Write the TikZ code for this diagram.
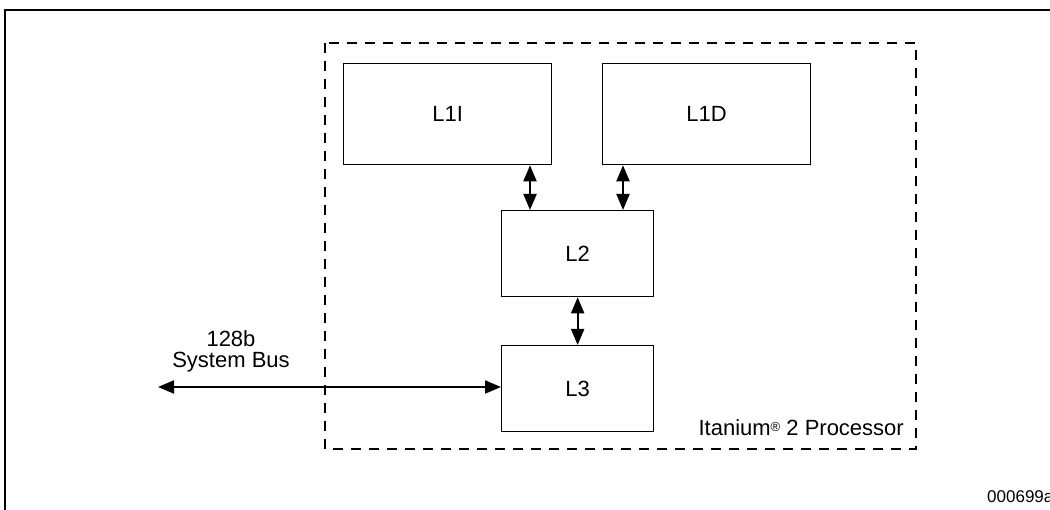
\documentclass[tikz,border=0pt]{standalone}
\usepackage{fontspec}
\setmainfont{Liberation Sans}
\usetikzlibrary{arrows.meta}
\begin{document}
\begin{tikzpicture}[x=1pt,y=-1pt,
  cache/.style={draw,line width=1.3pt,minimum width=208pt,minimum height=101pt,inner sep=0pt,font=\fontsize{22}{26}\selectfont,anchor=north west},
  lcache/.style={cache,minimum width=152pt,minimum height=86pt},
  link/.style={line width=2pt,{Triangle[length=16pt,width=13pt]}-{Triangle[length=16pt,width=13pt]}},
  lbl/.style={font=\fontsize{22}{26}\selectfont,inner sep=0pt}]
\useasboundingbox (0,0) rectangle (1050,510);
\begin{scope}
\clip (0,0) rectangle (1050,510);
% outer frame
\draw[line width=2pt] (5,520) -- (5,10) -- (1060,10);
% processor box
\draw[line width=2pt,dash pattern=on 10pt off 8pt] (325,43) rectangle (916,449);
\node[cache] (l1i) at (343,63) {L1I};
\node[cache] (l1d) at (602,63) {L1D};
\node[lcache] (l2) at (501,210) {L2};
\node[lcache] (l3) at (501,345) {L3};
\coordinate (bus) at (158,387);
\draw[link] (l1i.south -| 530,0) -- (l2.north -| 530,0);
\draw[link] (l1d.south -| 623,0) -- (l2.north -| 623,0);
\draw[link] (l2.south) -- (l3.north);
\draw[link] (bus) -- (l3.west |- bus);
\node[lbl] (t1) at (231,339) {128b};
\node[lbl] (t2) at (231,362) {System Bus};
\node[lbl,anchor=east] (proc) at (904,428) {Itanium\raisebox{0.35ex}{\fontsize{13}{13}\selectfont\textregistered} 2 Processor};
\node[font=\fontsize{17}{20}\selectfont,inner sep=0pt,anchor=west] (fig) at (987,497) {000699a};
\end{scope}
\end{tikzpicture}
\end{document}
